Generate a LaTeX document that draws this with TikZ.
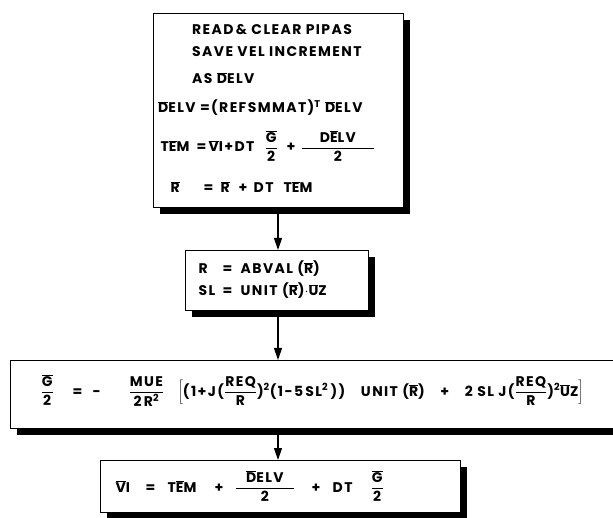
\documentclass[tikz,border=0pt]{standalone}
\usepackage{fontspec}
\setmainfont{Poppins}[LetterSpace=10]
\usetikzlibrary{arrows.meta,positioning,shadows}

\newcommand{\ovl}[1]{$\overline{\mbox{#1}}$}
\newcommand{\fr}[2]{$\displaystyle\frac{\mbox{#1}}{\mbox{#2}}$}
\newcommand{\putat}[2]{\makebox[0pt][l]{\hspace*{#1}#2}}

\tikzset{
  flowbox/.style={draw, line width=1.4pt, fill=white, rectangle, anchor=north west,
    inner sep=0pt, drop shadow={shadow xshift=6pt, shadow yshift=-6pt, fill=black, opacity=1}},
  boxtext/.style={font=\fontsize{14}{16}\selectfont\bfseries, inner sep=0pt, anchor=base west},
  flowarrow/.style={line width=1.2pt, -{Triangle[length=12pt,width=8pt]}}
}

\begin{document}
\begin{tikzpicture}[x=1pt, y=-1pt]
    \useasboundingbox (0,0) rectangle (613,518);
    % Boxes
    \node[flowbox, minimum width=250pt, minimum height=194pt] (box1) at (153,13) {};
    \node[flowbox, minimum width=183pt, minimum height=60pt] (box2) at (185,250) {};
    \node[flowbox, minimum width=620pt, minimum height=68pt] (box3) at (10,360) {};
    \node[flowbox, minimum width=360pt, minimum height=52pt] (box4) at (100,460) {};
    % Read and rotate
    \node[boxtext] (readln) at (192,35) {READ\,\& CLEAR PIPAS};
    \node[boxtext] (saveln) at (192,57) {SAVE VEL INCREMENT};
    \node[boxtext] (asln) at (192,84) {AS \ovl{D}ELV};
    \node[boxtext] (rotln) at (158,113) {\ovl{D}ELV =(REFSMMAT)\textsuperscript{T} \ovl{D}ELV};
    % Position update
    \node[boxtext] (temln) at (160,152) {\putat{0pt}{T\ovl{E}M}\putat{36pt}{=}\putat{48pt}{\ovl{V}I+DT}%
      \putat{104pt}{\fr{\ovl{G}}{2}}\putat{126pt}{+}\putat{140pt}{\fr{\makebox[72pt]{D\ovl{E}LV}}{2}}};
    \node[boxtext] (rln) at (170,193) {\putat{0pt}{\ovl{R}}\putat{33pt}{=}\putat{50pt}{\ovl{R}}%
      \putat{68pt}{+}\putat{83pt}{DT}\putat{113pt}{T\ovl{E}M}};
    % Radius
    \node[boxtext] (absln) at (198,274) {\putat{0pt}{R}\putat{24pt}{=}\putat{42pt}{ABVAL (\ovl{R})}};
    \node[boxtext] (unitln) at (198,296) {\putat{0pt}{SL}\putat{24pt}{=}\putat{42pt}{UNIT (\ovl{R})$\cdot$\ovl{U}Z}};
    % Gravity
    \node[boxtext] (gravln) at (40,396) {\putat{0pt}{\fr{\ovl{G}}{2}}\putat{32pt}{=}\putat{52pt}{-}%
      \putat{88pt}{\fr{MUE}{2\,R\textsuperscript{2}}}%
      \putat{137pt}{\makebox[406pt][s]{\mbox{$\biggl[$(1+J(\fr{REQ}{R})\textsuperscript{2}(1-5\,SL\textsuperscript{2}\,))} \mbox{UNIT (\ovl{R})} + \mbox{2 SL J(\fr{REQ}{R})\textsuperscript{2}\ovl{U}Z$\biggr]$}}}};
    % Velocity
    \node[boxtext] (velln) at (115,492) {\putat{0pt}{\ovl{V}I}\putat{30pt}{=}\putat{52pt}{T\ovl{E}M}%
      \putat{99pt}{+}\putat{119pt}{\fr{\makebox[58pt]{\ovl{D}ELV}}{2}}\putat{196pt}{+}\putat{217pt}{DT}\putat{255pt}{\fr{\ovl{G}}{2}}};
    % Flow
    \coordinate (arrx) at (278,0);
    \draw[flowarrow] (box1.south -| arrx) -- (box2.north -| arrx);
    \draw[flowarrow] (box2.south -| arrx) -- (box3.north -| arrx);
    \draw[flowarrow] (box3.south -| arrx) -- (box4.north -| arrx);
\end{tikzpicture}
\end{document}
